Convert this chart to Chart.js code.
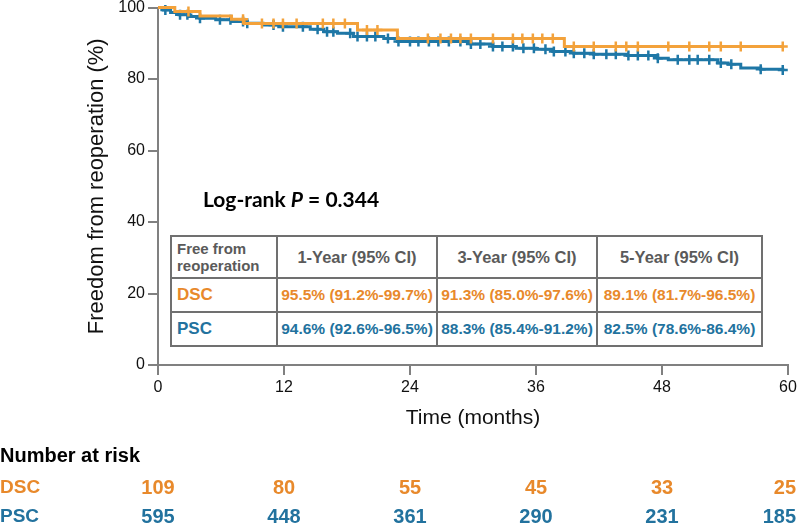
<!DOCTYPE html>
<html><head><meta charset="utf-8">
<script src="https://cdn.jsdelivr.net/npm/chart.js@4"></script>
<style>
html,body{margin:0;padding:0;background:#fff;}
#wrap{position:relative;width:797px;height:525px;overflow:hidden;}
#c{position:absolute;left:0;top:0;}
#tbl{position:absolute;left:170px;top:235px;width:591px;border-collapse:collapse;table-layout:fixed;
 font-family:"Liberation Sans",Arial,sans-serif;font-weight:bold;font-size:15.5px;background:#fff;}
#tbl td{border:2px solid #707070;padding:0;white-space:nowrap;}
#tbl tr.h td{height:40px;color:#5a5a5a;text-align:center;font-size:16.5px;}
#tbl tr.h td.f{text-align:left;padding-left:5px;font-size:15px;line-height:17px;}
#tbl tr.r td{height:32px;text-align:center;}
#tbl tr.r td.f{text-align:left;padding-left:5px;font-size:17px;}
</style></head>
<body><div id="wrap"><canvas id="c" width="797" height="525"></canvas>
<table id="tbl"><colgroup><col style="width:106px"><col style="width:160px"><col style="width:160px"><col style="width:165px"></colgroup><tbody id="tb"></tbody></table></div>
<script>
// ---- data ----
const timeTicks = [0, 12, 24, 36, 48, 60];
const groups = ['DSC', 'PSC'];
const dscAtRisk = [109, 80, 55, 45, 33, 25];
const pscAtRisk = [595, 448, 361, 290, 231, 185];

const dscTimes = [0, 1.6, 4.0, 7.0, 8.2, 19.0, 22.8, 38.7, 59.5];
const dscSurv  = [100, 98.9, 97.6, 96.7, 95.5, 93.7, 91.3, 89.1, 89.1];
const dscCensor = [2.9, 8.1, 9.9, 11.0, 11.9, 13.2, 15.7, 16.7, 17.8, 19.9, 20.9, 25.7, 26.9, 27.9, 28.8, 29.8, 31.9, 33.8, 34.7, 35.7, 36.6, 37.6, 39.6, 41.5, 43.6, 44.6, 45.7, 48.6, 50.6, 52.5, 53.6, 55.5, 59.5];

const pscTimes = [0, 0.5, 1.2, 2.0, 3.0, 4.0, 5.5, 7.0, 8.5, 10.0, 11.5, 14.5, 15.8, 17.1, 18.6, 21.5, 22.8, 29.8, 31.9, 34.1, 36.0, 37.6, 39.6, 41.5, 44.7, 47.6, 48.6, 53.3, 54.3, 55.5, 57.4, 59.5];
const pscSurv  = [100, 99.3, 98.6, 98.0, 97.5, 97.0, 96.6, 96.1, 95.6, 95.1, 94.6, 93.9, 93.2, 92.8, 91.9, 91.3, 90.5, 89.8, 89.1, 88.6, 88.3, 87.7, 87.2, 86.9, 86.6, 85.8, 85.4, 84.5, 84.1, 83.1, 82.7, 82.5];
const pscCensor = [0.7, 2.1, 2.8, 4.0, 5.9, 6.9, 8.1, 8.5, 11.0, 11.9, 13.8, 15.2, 16.1, 16.7, 18.3, 19.0, 19.9, 20.7, 21.9, 22.9, 24.0, 24.8, 25.8, 26.7, 27.7, 28.8, 29.8, 30.7, 31.9, 32.8, 33.8, 34.8, 35.8, 36.9, 37.7, 38.8, 39.6, 40.6, 41.5, 42.7, 43.6, 44.8, 45.7, 46.7, 47.6, 49.5, 50.6, 51.4, 52.5, 53.6, 54.6, 57.4, 59.5];

const tableHeader = ['Free from<br>reoperation', '1-Year (95% CI)', '3-Year (95% CI)', '5-Year (95% CI)'];
const dscCI = ['95.5% (91.2%-99.7%)', '91.3% (85.0%-97.6%)', '89.1% (81.7%-96.5%)'];
const pscCI = ['94.6% (92.6%-96.5%)', '88.3% (85.4%-91.2%)', '82.5% (78.6%-86.4%)'];
const logRankP = '0.344';

// ---- styles ----
const orangeLine = '#F3A23B', blueLine = '#1E77A6';
const orangeText = '#E8892B', blueText = '#22729E';
const axisGray = '#808080';

function stepAt(times, surv, t) {
  let v = surv[0];
  for (let i = 0; i < times.length; i++) { if (times[i] <= t) v = surv[i]; }
  return v;
}
const pts = (ts, vs) => ts.map((t, i) => ({x: t, y: vs[i]}));
const cens = (cs, ts, vs) => cs.map(t => ({x: t, y: stepAt(ts, vs, t)}));

// table
const tb = document.getElementById('tb');
let html = '<tr class="h">' + tableHeader.map((h, i) => `<td class="${i === 0 ? 'f' : ''}">${h}</td>`).join('') + '</tr>';
html += `<tr class="r" style="color:${orangeText}"><td class="f">${groups[0]}</td>` + dscCI.map(s => `<td>${s}</td>`).join('') + '</tr>';
html += `<tr class="r" style="color:${blueText}"><td class="f">${groups[1]}</td>` + pscCI.map(s => `<td>${s}</td>`).join('') + '</tr>';
tb.innerHTML = html;

const textPlugin = {
  id: 'texts',
  afterDraw(chart) {
    const ctx = chart.ctx, xs = chart.scales.x;
    ctx.save();
    ctx.textBaseline = 'middle';
    // Log-rank
    let x = 203, y = 200;
    ctx.fillStyle = '#000';
    ctx.font = 'bold 21px Lato, "Open Sans", sans-serif';
    ctx.textAlign = 'left';
    const a = 'Log-rank ';
    ctx.fillText(a, x, y); x += ctx.measureText(a).width;
    ctx.font = 'italic bold 21px Lato, "Open Sans", sans-serif';
    ctx.fillText('P', x, y); x += ctx.measureText('P').width;
    ctx.font = 'bold 21px Lato, "Open Sans", sans-serif';
    ctx.fillText(' = ' + logRankP, x, y);
    // Number at risk
    ctx.font = 'bold 20px "Liberation Sans", Arial, sans-serif';
    ctx.fillText('Number at risk', 0, 456);
    const rows = [[groups[0], dscAtRisk, orangeText, 488], [groups[1], pscAtRisk, blueText, 517]];
    rows.forEach(([name, vals, col, yy]) => {
      ctx.fillStyle = col;
      ctx.textAlign = 'left';
      ctx.font = 'bold 19px "Liberation Sans", Arial, sans-serif';
      ctx.fillText(name, 0, yy);
      ctx.font = 'bold 20px "Liberation Sans", Arial, sans-serif';
      ctx.textAlign = 'center';
      vals.forEach((v, i) => {
        const s = String(v), w = ctx.measureText(s).width;
        let px = xs.getPixelForValue(timeTicks[i]);
        px = Math.min(px, 796 - w / 2);
        ctx.fillText(s, px, yy);
      });
    });
    ctx.restore();
  }
};

new Chart(document.getElementById('c'), {
  type: 'scatter',
  data: {
    datasets: [
      {type: 'line', data: pts(dscTimes, dscSurv), borderColor: orangeLine, borderWidth: 3, stepped: 'before', pointRadius: 0, fill: false, clip: false},
      {type: 'scatter', data: cens(dscCensor, dscTimes, dscSurv), pointStyle: 'cross', pointRadius: 5, borderColor: orangeLine, pointBorderWidth: 2.5, clip: false},
      {type: 'line', data: pts(pscTimes, pscSurv), borderColor: blueLine, borderWidth: 3, stepped: 'before', pointRadius: 0, fill: false, clip: false},
      {type: 'scatter', data: cens(pscCensor, pscTimes, pscSurv), pointStyle: 'cross', pointRadius: 5, borderColor: blueLine, pointBorderWidth: 2.5, clip: false}
    ]
  },
  options: {
    responsive: false, animation: false, devicePixelRatio: 1,
    layout: {padding: {left: 84, top: 6, right: 9, bottom: 94}},
    plugins: {legend: {display: false}, tooltip: {enabled: false}},
    scales: {
      x: {
        type: 'linear', min: 0, max: 60,
        afterFit(s) { s.height = 66; s.paddingRight = 0; s.paddingLeft = 0; },
        afterBuildTicks(s) { s.ticks = timeTicks.map(v => ({value: v})); },
        ticks: {color: '#111', font: {size: 16, family: '"Liberation Sans", Arial, sans-serif'}, padding: 3, maxRotation: 0},
        grid: {drawOnChartArea: false, drawTicks: true, tickLength: 10, color: axisGray, lineWidth: 2},
        border: {display: true, color: axisGray, width: 2},
        title: {display: true, text: 'Time (months)', color: '#111', font: {size: 21, family: '"Liberation Sans", Arial, sans-serif'}, padding: 0}
      },
      y: {
        min: 0, max: 100,
        afterFit(s) { s.width = 74; s.paddingTop = 0; s.paddingBottom = 0; },
        ticks: {stepSize: 20, color: '#111', font: {size: 16, family: '"Liberation Sans", Arial, sans-serif'}, padding: 3},
        grid: {drawOnChartArea: false, drawTicks: true, tickLength: 10, color: axisGray, lineWidth: 2},
        border: {display: true, color: axisGray, width: 2},
        title: {display: true, text: 'Freedom from reoperation (%)', color: '#111', font: {size: 22, family: '"Liberation Sans", Arial, sans-serif'}, padding: 0}
      }
    }
  },
  plugins: [textPlugin]
});
</script></body></html>
